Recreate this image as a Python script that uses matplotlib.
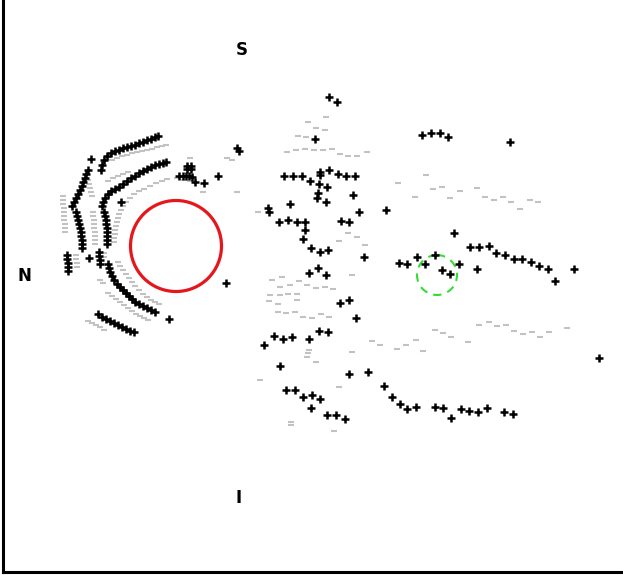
import numpy as np
import matplotlib.pyplot as plt
from matplotlib.patches import Circle

# coordenadas (en px, y hacia abajo)
# cruces negras: puntos vistos
arco_a = [(101, 170), (102, 165), (104, 160), (107, 156), (111, 153), (115, 151), (119, 150),
          (123, 148), (127, 147), (131, 146), (135, 145), (139, 143), (143, 142), (147, 140),
          (151, 139), (155, 137), (158, 136)]
arco_b = [(88, 170), (86, 174), (85, 178), (83, 182), (82, 186), (80, 190), (78, 194),
          (76, 198), (74, 202), (72, 206)]
arco_c = [(76, 212), (77, 216), (78, 220), (79, 224), (80, 228), (81, 232), (81, 236),
          (82, 240), (82, 244), (82, 248)]
arco_d = [(102, 206), (103, 202), (105, 198), (108, 194), (111, 191), (115, 189), (119, 187),
          (123, 184), (127, 181), (131, 178), (135, 176), (139, 173), (143, 171), (147, 169),
          (151, 167), (155, 165), (159, 164), (163, 163), (166, 162),
          (104, 212), (105, 216), (106, 220), (106, 224), (107, 228), (107, 232), (107, 236),
          (107, 240), (107, 244)]
arco_e = [(108, 264), (109, 268), (110, 272), (112, 276), (114, 280), (117, 284), (120, 287),
          (123, 290), (126, 293), (129, 296), (132, 299), (135, 302), (139, 304), (143, 306),
          (147, 308), (151, 310), (155, 312)]
arco_f = [(98, 314), (102, 317), (106, 319), (110, 321), (114, 323), (118, 325), (122, 327),
          (126, 329), (130, 331), (134, 332)]
sueltos = [(67, 255), (67, 259), (68, 263), (68, 267), (68, 271),
           (99, 252), (99, 256), (100, 260), (100, 264),
           (121, 202), (91, 159), (89, 258), (169, 319), (226, 283),
           (237, 148), (239, 151),
           (187, 166), (191, 166), (187, 169), (191, 169), (179, 176), (183, 176), (186, 176),
           (189, 176), (192, 177), (195, 182), (204, 183), (218, 176)]
centro = [(329, 97), (337, 102), (315, 139),
          (284, 176), (293, 176), (302, 176), (310, 181), (320, 172), (320, 175), (329, 170),
          (338, 174), (346, 176), (355, 176), (319, 184), (327, 187), (318, 193), (317, 198),
          (326, 202), (353, 195), (268, 208), (269, 212), (290, 204), (359, 212), (386, 210),
          (279, 222), (288, 220), (297, 222), (305, 222), (305, 230), (303, 239), (341, 221),
          (349, 222), (311, 248), (320, 252), (328, 250), (364, 257), (318, 268), (309, 273),
          (326, 275),
          (340, 303), (349, 300), (356, 318), (264, 345), (274, 336), (283, 339), (292, 337),
          (309, 339), (319, 331), (328, 332), (280, 366), (349, 374), (368, 372),
          (286, 390), (295, 390), (303, 397), (312, 395), (320, 399), (311, 408), (327, 415),
          (336, 415), (345, 419)]
derecha = [(422, 135), (431, 133), (440, 133), (448, 137), (510, 142), (454, 233),
           (399, 263), (407, 264), (417, 257), (425, 264), (435, 255), (442, 270), (450, 274),
           (459, 264), (477, 269),
           (470, 247), (479, 247), (489, 246), (496, 253), (505, 255), (514, 259), (522, 259),
           (531, 262), (539, 266), (548, 269), (555, 281), (574, 269), (599, 358),
           (384, 386), (392, 397), (400, 404), (407, 409), (416, 407), (435, 407), (443, 408),
           (451, 418), (461, 409), (469, 411), (478, 412), (487, 408), (504, 412), (513, 414)]

# guiones grises: puntos no vistos
gris_izq = [(112, 160), (117, 158), (122, 156), (127, 155), (132, 153), (137, 152), (142, 151),
            (147, 150), (152, 149), (157, 147), (162, 146), (166, 145),
            (108, 181), (113, 178), (118, 176), (123, 174), (128, 172),
            (114, 242), (114, 238), (115, 234), (115, 230), (116, 226), (117, 222), (118, 218),
            (119, 214), (121, 210), (123, 206), (126, 202), (130, 198), (134, 194), (139, 191),
            (144, 189), (150, 186), (156, 183), (162, 181), (167, 179),
            (88, 180), (89, 184), (90, 188), (91, 192), (92, 196), (93, 212), (93, 216),
            (94, 220), (94, 224), (94, 228), (95, 232), (95, 236), (95, 240), (95, 244),
            (63, 196), (63, 200), (63, 204), (64, 208), (64, 212), (64, 216), (64, 220),
            (65, 224), (65, 228), (65, 232),
            (76, 255), (76, 259), (77, 263), (77, 267),
            (104, 253), (104, 257), (100, 280), (103, 283),
            (118, 262), (120, 266), (123, 270), (126, 274), (129, 278), (132, 282), (135, 286),
            (139, 290), (143, 294), (147, 297), (151, 300), (155, 302), (159, 304),
            (108, 293), (112, 296), (116, 299), (120, 302), (124, 305), (128, 308), (132, 311),
            (136, 314), (140, 316), (144, 318), (148, 320),
            (88, 321), (92, 323), (96, 325), (100, 327), (104, 330),
            (190, 158), (227, 158), (232, 160), (177, 178), (184, 180), (190, 181), (203, 192),
            (237, 192)]
gris_centro = [(326, 117), (308, 122), (316, 128), (325, 130), (298, 136), (306, 137),
               (287, 152), (296, 150), (305, 149), (314, 150), (323, 150), (332, 149),
               (340, 154), (348, 156), (357, 156), (367, 152), (258, 212),
               (348, 233), (357, 237), (339, 241), (365, 245),
               (272, 280), (282, 277), (299, 281), (280, 287), (290, 285), (307, 285),
               (316, 288), (325, 287), (333, 289), (352, 275),
               (270, 295), (280, 295), (288, 294), (297, 294), (269, 301), (278, 304), (297, 300),
               (278, 312), (286, 313), (295, 312), (303, 317), (312, 318), (321, 314), (329, 317),
               (309, 350), (308, 353), (307, 357), (316, 362), (352, 352),
               (260, 380), (339, 387), (291, 422), (291, 425), (334, 431)]
gris_der = [(426, 175), (398, 183), (433, 189), (442, 187), (415, 197), (450, 198), (460, 191),
            (477, 188), (485, 197), (494, 200), (503, 197), (511, 202), (520, 209), (530, 200),
            (538, 202),
            (372, 341), (380, 345), (397, 349), (406, 345), (416, 340), (423, 351), (435, 330),
            (443, 333), (451, 337), (468, 342), (479, 325), (489, 322), (497, 326), (506, 325),
            (514, 331), (523, 334), (532, 332), (540, 337), (549, 332), (567, 328)]

# disco (rojo) y fovea (verde)
disco_centro, disco_radio = (176, 246), 45.5
fovea_centro, fovea_radio = (437, 275), 20

etiquetas = ["S", "N", "I"]
pos_etiquetas = [(242, 50), (24, 276), (239, 498)]

negras = np.array(arco_a + arco_b + arco_c + arco_d + arco_e + arco_f + sueltos + centro + derecha)
grises = np.array(gris_izq + gris_centro + gris_der)

fig = plt.figure(figsize=(6.23, 5.75), dpi=100)
ax = fig.add_axes([3 / 623, 3 / 575, 620 / 623, 572 / 575])

ax.plot(grises[:, 0], grises[:, 1], ls="none", marker="_", ms=5, mew=1.5, color="#c2c2c2")
ax.plot(negras[:, 0], negras[:, 1], ls="none", marker="+", ms=5.5, mew=1.8, color="black")

ax.add_patch(Circle(disco_centro, disco_radio, fill=False, ec="#e5161c", lw=2.3))
ax.add_patch(Circle(fovea_centro, fovea_radio, fill=False, ec="#33dd33", lw=1.5, ls=(0, (4, 3))))

for t, (x, y) in zip(etiquetas, pos_etiquetas):
    ax.text(x, y, t, fontsize=12, fontweight="bold", ha="center", va="center")

ax.set_xlim(3, 623)
ax.set_ylim(572, 0)
ax.set_xticks([])
ax.set_yticks([])
ax.spines["top"].set_visible(False)
ax.spines["right"].set_visible(False)
ax.spines["left"].set_linewidth(2.2)
ax.spines["bottom"].set_linewidth(2.2)

fig.savefig("out.png", dpi=100)
